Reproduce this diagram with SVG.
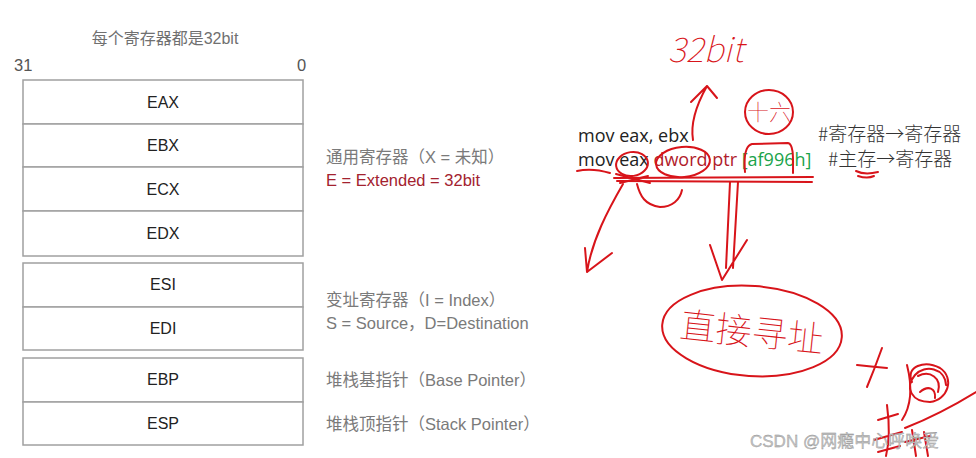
<svg xmlns="http://www.w3.org/2000/svg" width="976" height="458" viewBox="0 0 976 458">
<style>
.reg{fill:#fff;stroke:#a0a0a0;stroke-width:1.5}
.rl{font-family:"Liberation Sans","Noto Sans CJK SC",sans-serif;font-size:16px;fill:#222;text-anchor:middle;dominant-baseline:central}
.gl{font-family:"Liberation Sans","Noto Sans CJK SC",sans-serif;font-size:16.5px;fill:#7a7a7a;dominant-baseline:central}
.code{font-family:"Open Sans","Liberation Sans",sans-serif;font-size:18px;fill:#222}
.cmt{font-family:"Noto Sans CJK SC",sans-serif;font-size:19px;fill:#333;font-weight:300}
.ink{fill:none;stroke:#d8141a;stroke-width:2;stroke-linecap:round;stroke-linejoin:round}
.hw{font-family:"Noto Sans CJK SC",sans-serif;fill:#d8141a;font-weight:100}
</style>
<rect width="976" height="458" fill="#fff"/>
<text x="165" y="38" class="gl" text-anchor="middle" style="fill:#707070;font-size:16px">每个寄存器都是32bit</text>
<text x="14" y="65" class="gl" style="fill:#555">31</text>
<text x="297" y="65" class="gl" style="fill:#555">0</text>

<g id="EAX"><rect class="reg" x="23" y="80" width="280" height="44"/><text class="rl" x="163" y="102">EAX</text></g>
<g id="EBX"><rect class="reg" x="23" y="124" width="280" height="43"/><text class="rl" x="163" y="145">EBX</text></g>
<g id="ECX"><rect class="reg" x="23" y="167" width="280" height="44"/><text class="rl" x="163" y="189">ECX</text></g>
<g id="EDX"><rect class="reg" x="23" y="211" width="280" height="45"/><text class="rl" x="163" y="233">EDX</text></g>
<g id="ESI"><rect class="reg" x="23" y="263" width="280" height="44"/><text class="rl" x="163" y="284">ESI</text></g>
<g id="EDI"><rect class="reg" x="23" y="307" width="280" height="43"/><text class="rl" x="163" y="328">EDI</text></g>
<g id="EBP"><rect class="reg" x="23" y="358" width="280" height="44"/><text class="rl" x="163" y="379">EBP</text></g>
<g id="ESP"><rect class="reg" x="23" y="402" width="280" height="43"/><text class="rl" x="163" y="423">ESP</text></g>

<g id="labels">
<text x="326" y="157" class="gl">通用寄存器（X = 未知）</text>
<text x="326" y="180" class="gl" style="fill:#a3222f">E = Extended = 32bit</text>
<text x="326" y="300" class="gl">变址寄存器（I = Index）</text>
<text x="326" y="323" class="gl">S = Source，D=Destination</text>
<text x="326" y="380" class="gl">堆栈基指针（Base Pointer）</text>
<text x="326" y="424" class="gl">堆栈顶指针（Stack Pointer）</text>
</g>

<g id="code">
<text x="578" y="142" class="code">mov eax, ebx</text>
<text x="578" y="166" class="code">mov eax <tspan fill="#b0202a">dword ptr </tspan><tspan fill="#1aa34a">[af996h]</tspan></text>
<text x="818" y="141" class="cmt">#寄存器→寄存器</text>
<text x="828" y="166" class="cmt">#主存→寄存器</text>
</g>

<g id="notes">
<text x="668" y="62" class="hw" font-size="34" font-style="italic">32bit</text>
<ellipse class="ink" cx="769" cy="112" rx="24" ry="22"/>
<text x="769" y="120" class="hw" font-size="22" text-anchor="middle">十六</text>
<path class="ink" d="M745 172 C744 160 744 146 752 144 L788 143 C794 144 793 160 793 173"/>
<ellipse class="ink" cx="632" cy="164" rx="16" ry="12" transform="rotate(-8 632 164)"/>
<ellipse class="ink" cx="683" cy="162" rx="27" ry="15" transform="rotate(-5 683 162)"/>
<path class="ink" d="M577 171 C590 168 600 170 610 173"/>
<path class="ink" d="M614 178 L813 177 M617 181 L812 182" stroke-width="3"/>
<path class="ink" d="M616 174 L650 183 M620 183 L648 176"/>
<path class="ink" d="M637 184 C640 196 645 205 660 207 C672 207 680 200 682 190"/>
<path class="ink" d="M856 171 C862 174 870 174 878 172"/>
<path class="ink" d="M858 176 C864 178 870 178 874 176"/>
<ellipse class="ink" cx="752" cy="331" rx="90" ry="45" transform="rotate(4 752 331)"/>
<text x="752" y="345" class="hw" font-size="36" text-anchor="middle" transform="rotate(6 752 330)">直接寻址</text>
<path class="ink" d="M857 365 C866 366 876 367 887 368 M882 348 C877 362 872 375 867 387"/>
<path class="ink" d="M912 382 C905 366 925 360 940 368 C955 378 948 400 930 402 C912 402 904 388 915 375 C925 364 945 368 946 385"/>
<path class="ink" d="M918 376 C930 370 942 378 938 392 M920 392 C928 385 936 388 935 398"/>
<path class="ink" d="M907 365 C912 385 912 405 902 420"/>
<path class="ink" d="M976 392 C950 408 925 420 905 428"/>
<path class="ink" d="M878 420 L898 414 M887 405 C889 420 890 440 886 456 M874 440 L902 432 M878 452 L900 446"/>
<path class="ink" d="M905 442 L930 436 M912 430 L916 456 M924 432 L928 456"/>
</g>

<g id="connectors">
<path class="ink" d="M693 140 C690 122 698 102 707 86 M691 102 L707 86 L717 98"/>
<path class="ink" d="M623 184 C608 210 592 240 587 272 M585 248 L587 272 L612 253"/>
<path class="ink" d="M730 182 L726 268 M738 182 L733 268 M710 245 L722 280 L747 240"/>
</g>

<text x="750" y="447" font-family="Liberation Sans,Noto Sans CJK SC,sans-serif" font-size="17" fill="#c4c4c4" stroke="#8a8a8a" stroke-width="0.3">CSDN @网瘾中心呼唤爱</text>
</svg>
